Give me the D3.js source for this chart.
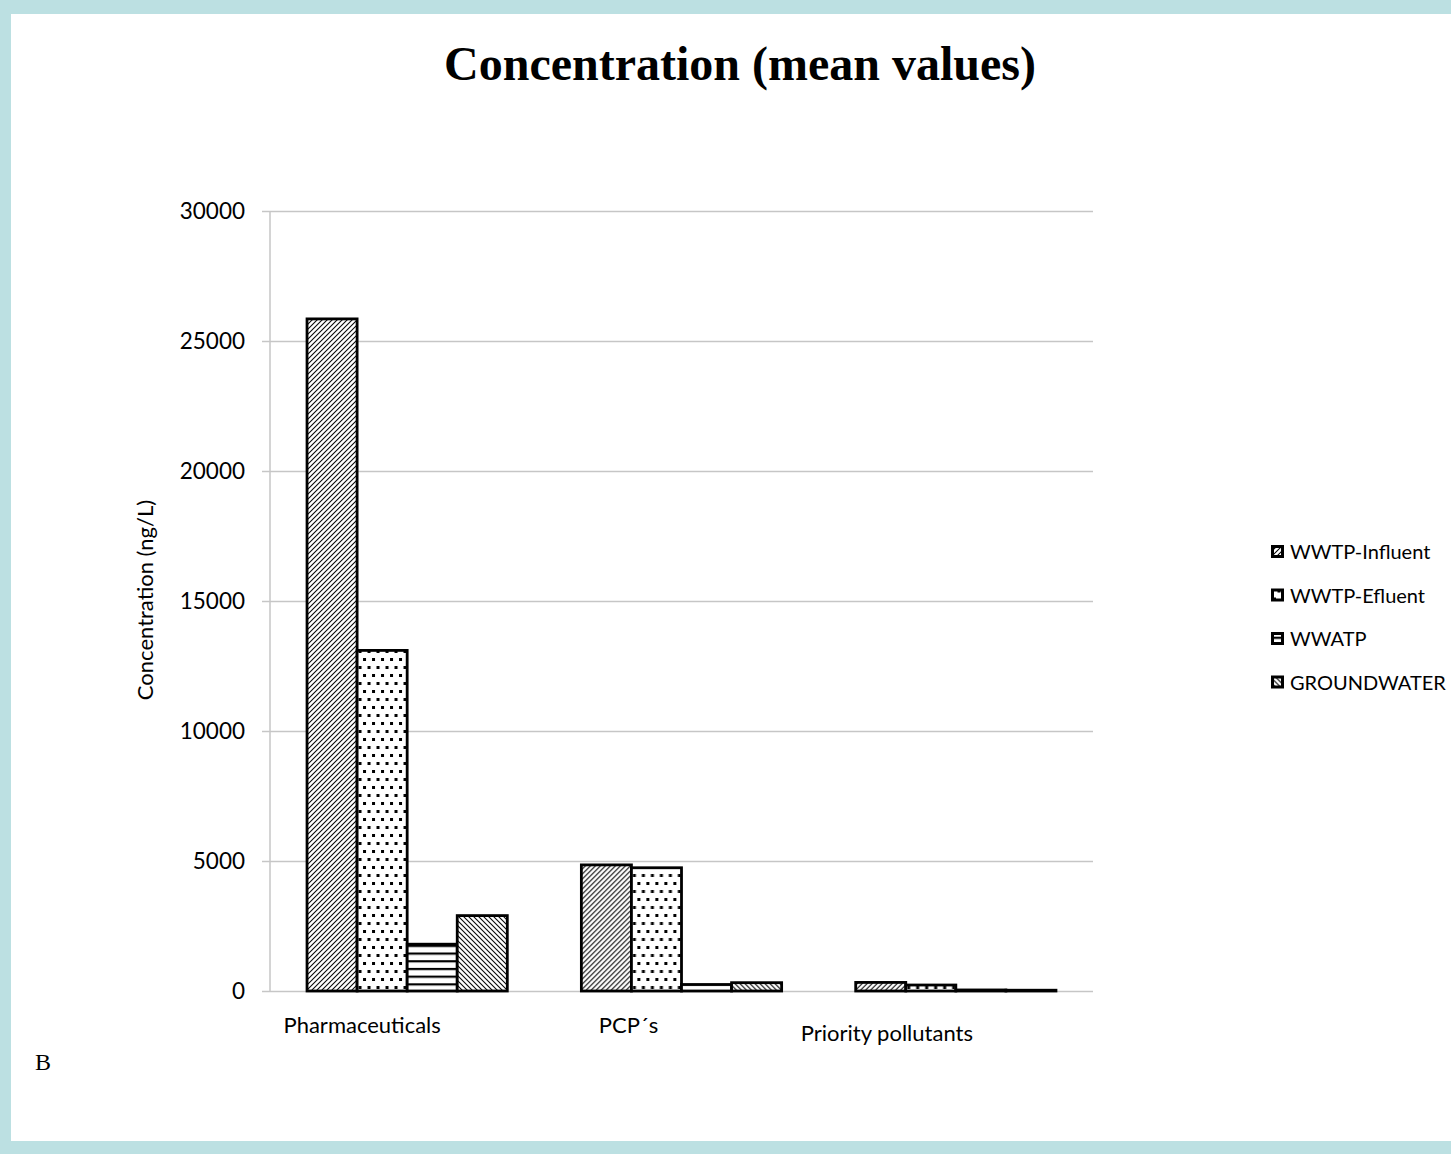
<!DOCTYPE html>
<html><head><meta charset="utf-8">
<script src="https://cdn.jsdelivr.net/npm/d3@7"></script>
<style>html,body{margin:0;padding:0;background:#fff;}</style>
</head><body>
<svg id="chart" width="1451" height="1154"></svg>
<script>
const categories = ["Pharmaceuticals", "PCP´s", "Priority pollutants"];
const seriesNames = ["WWTP-Influent", "WWTP-Efluent", "WWATP", "GROUNDWATER"];
const influent = [25850, 4850, 330];
const efluent = [13100, 4740, 230];
const wwatp = [1800, 250, 40];
const groundwater = [2900, 320, 30];
const yTicks = [0, 5000, 10000, 15000, 20000, 25000, 30000];

// layout (not data)
const labelShiftX = [-45, -53, -69];
const labelShiftY = [0, 0, 8];

const seriesValues = [influent, efluent, wwatp, groundwater];
const svg = d3.select("#chart");
const W = 1451, H = 1154;
const sans = "Lato, 'Open Sans', sans-serif";

svg.append("rect").attr("width", W).attr("height", H).attr("fill", "#bce0e2");
svg.append("rect").attr("x", 11).attr("y", 14).attr("width", W - 11).attr("height", 1141 - 14).attr("fill", "#fff");

const defs = svg.append("defs");
const patIds = ["p-infl", "p-efl", "p-wwatp", "p-gw"];
// forward diagonal
let p = defs.append("pattern").attr("id", patIds[0]).attr("patternUnits", "userSpaceOnUse").attr("width", 5).attr("height", 5);
p.append("rect").attr("width", 5).attr("height", 5).attr("fill", "#fff");
p.append("path").attr("d", "M-1,6 L6,-1 M-1,1 L1,-1 M4,6 L6,4").attr("stroke", "#000").attr("stroke-width", 1.05);
// dots
p = defs.append("pattern").attr("id", patIds[1]).attr("patternUnits", "userSpaceOnUse").attr("width", 18).attr("height", 16);
p.append("rect").attr("width", 18).attr("height", 16).attr("fill", "#fff");
p.append("rect").attr("x", 2).attr("y", 2).attr("width", 3).attr("height", 3).attr("fill", "#000");
p.append("rect").attr("x", 11).attr("y", 2).attr("width", 3).attr("height", 3).attr("fill", "#000");
p.append("rect").attr("x", 6.5).attr("y", 10).attr("width", 3).attr("height", 3).attr("fill", "#000");
p.append("rect").attr("x", 15.5).attr("y", 10).attr("width", 3).attr("height", 3).attr("fill", "#000");
p.append("rect").attr("x", -2.5).attr("y", 10).attr("width", 3).attr("height", 3).attr("fill", "#000");
// horizontal lines
p = defs.append("pattern").attr("id", patIds[2]).attr("patternUnits", "userSpaceOnUse").attr("width", 8).attr("height", 7.7).attr("y", 991);
p.append("rect").attr("width", 8).attr("height", 7.7).attr("fill", "#fff");
p.append("rect").attr("x", 0).attr("y", 0).attr("width", 8).attr("height", 2.2).attr("fill", "#000");
// backward diagonal
p = defs.append("pattern").attr("id", patIds[3]).attr("patternUnits", "userSpaceOnUse").attr("width", 5).attr("height", 5);
p.append("rect").attr("width", 5).attr("height", 5).attr("fill", "#fff");
p.append("path").attr("d", "M-1,-1 L6,6 M4,-1 L6,1 M-1,4 L1,6").attr("stroke", "#000").attr("stroke-width", 1.05);

const plotL = 270, plotR = 1093, plotT = 211, plotB = 991;
const y = d3.scaleLinear().domain([0, 30000]).range([plotB, plotT]);
const x0 = d3.scaleBand().domain(categories).range([plotL, plotR]).paddingInner(0.27).paddingOuter(0.135);
const x1 = d3.scaleBand().domain(seriesNames).range([0, x0.bandwidth()]);

// gridlines + y axis
const yAxis = d3.axisLeft(y).tickValues(yTicks).tickSize(plotR - plotL + 8).tickFormat(d => d).tickPadding(17);
const gy = svg.append("g").attr("transform", `translate(${plotR},0)`).call(yAxis);
gy.select(".domain").remove();
gy.selectAll(".tick line").attr("stroke", "#c6c6c6").attr("stroke-width", 1.5);
gy.selectAll(".tick text").attr("font-family", sans).attr("font-size", 22.5).attr("fill", "#000");
svg.append("line").attr("x1", plotL).attr("x2", plotL).attr("y1", plotT).attr("y2", plotB).attr("stroke", "#c6c6c6").attr("stroke-width", 1.5);

// bars
const groups = svg.append("g").selectAll("g").data(categories).join("g")
  .attr("transform", c => `translate(${x0(c)},0)`);
groups.selectAll("rect").data((c, ci) => seriesNames.map((s, si) => ({ s, si, v: seriesValues[si][ci] })))
  .join("rect")
  .attr("x", d => x1(d.s))
  .attr("width", x1.bandwidth())
  .attr("y", d => y(d.v))
  .attr("height", d => plotB - y(d.v))
  .attr("fill", d => `url(#${patIds[d.si]})`)
  .attr("stroke", "#000").attr("stroke-width", 2.8);

// category labels
svg.append("g").selectAll("text").data(categories).join("text")
  .attr("x", (c, i) => x0(c) + x0.bandwidth() / 2 + labelShiftX[i])
  .attr("y", (c, i) => 1033 + labelShiftY[i])
  .attr("text-anchor", "middle")
  .attr("font-family", sans).attr("font-size", 22)
  .text(c => c);

// y axis title
svg.append("text").attr("transform", "translate(153,600) rotate(-90)")
  .attr("text-anchor", "middle").attr("font-family", sans).attr("font-size", 22)
  .text("Concentration (ng/L)");

// title
svg.append("text").attr("x", 740).attr("y", 80).attr("text-anchor", "middle")
  .attr("font-family", "'Liberation Serif', 'Times New Roman', serif").attr("font-weight", "bold").attr("font-size", 48)
  .text("Concentration (mean values)");

// B label
svg.append("text").attr("x", 35).attr("y", 1070)
  .attr("font-family", "'Liberation Serif', 'Times New Roman', serif").attr("font-size", 24)
  .text("B");

// legend
const leg = svg.append("g").selectAll("g").data(seriesNames).join("g")
  .attr("transform", (d, i) => `translate(1271,${552 + i * 43.5})`);
leg.append("rect").attr("x", 1.5).attr("y", -5.5).attr("width", 10).attr("height", 10)
  .attr("fill", (d, i) => `url(#${patIds[i]})`).attr("stroke", "#000").attr("stroke-width", 3);
leg.append("text").attr("x", 19).attr("y", 7).attr("font-family", sans).attr("font-size", 20)
  .text(d => d);
</script>
</body></html>
